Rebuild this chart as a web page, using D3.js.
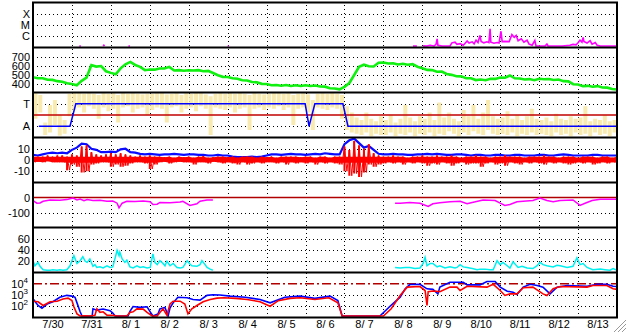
<!DOCTYPE html>
<html><head><meta charset="utf-8">
<script src="https://cdn.jsdelivr.net/npm/d3@7"></script>
<style>body{margin:0;background:#fff}svg{display:block}</style>
</head><body><svg id="c" width="628" height="334"></svg>
<script>
// ---------------- DATA ----------------
const dayLabels = ["7/30","7/31","8/ 1","8/ 2","8/ 3","8/ 4","8/ 5","8/ 6","8/ 7","8/ 8","8/ 9","8/10","8/11","8/12","8/13"];
const dayBreaks = [1,2,3,4,5,6,7,8,9,10,11,12,13,14];
const STEP = 0.125; // days between samples of the regular series

// X-ray flux (W/m2), [day, value]; null = no data
const xrayFlux = [[1.19,1e-7],[1.21,1.15e-7],[1.23,1e-7],[1.24,null],
 [1.80,1e-7],[1.82,1.6e-7],[1.84,1e-7],[1.85,null],
 [2.45,1e-7],[2.47,1.35e-7],[2.49,1e-7],[2.50,null],
 [5.00,1e-7],[5.01,1.1e-7],[5.03,1e-7],[5.04,null],
 [9.76,1.05e-7],[9.86,1e-7],[9.9,null],
 [10.02,1.4e-7],[10.12,1.2e-7],[10.20,1.6e-7],[10.30,1.3e-7],[10.35,1.8e-7],[10.38,5.9e-7],[10.40,1.6e-7],[10.51,1.2e-7],[10.61,1.3e-7],[10.71,1.1e-7],[10.76,2.6e-7],[10.84,3e-7],[10.89,1.9e-7],[10.97,2.2e-7],[11.05,1.6e-7],[11.10,2.4e-7],[11.15,3.8e-7],[11.20,2.5e-7],[11.28,3.2e-7],[11.33,2.1e-7],[11.38,4.5e-7],[11.43,2.8e-7],[11.48,1.2e-6],[11.51,3.5e-7],[11.58,2.6e-7],[11.66,3.2e-7],[11.71,2.7e-7],[11.74,4.6e-6],[11.76,3e-7],[11.84,2.4e-7],[11.92,2.8e-7],[11.97,2.5e-7],[12.02,2.8e-6],[12.05,3.3e-7],[12.12,3.5e-7],[12.23,3.3e-7],[12.30,1.4e-6],[12.36,8e-7],[12.41,1.2e-6],[12.46,4e-7],[12.54,6e-7],[12.61,3e-7],[12.69,4.5e-7],[12.74,2e-7],[12.82,1.6e-7],[12.89,4.2e-7],[12.92,1.4e-7],[13.02,1e-7],[13.15,1e-7],[13.20,2e-7],[13.23,1e-7],[13.43,1.1e-7],[13.59,1.1e-7],[13.79,1.6e-7],[13.87,1.9e-7],[13.95,1.7e-7],[14.00,2.6e-7],[14.05,4.5e-7],[14.10,3e-7],[14.13,8e-7],[14.15,3.5e-7],[14.23,2.5e-7],[14.31,4e-7],[14.36,2e-7],[14.44,2.8e-7],[14.49,1.6e-7],[14.57,1.1e-7],[14.77,1.05e-7],[15.00,1e-7]];

// Solar wind speed (km/s), one value every STEP days
const windSpeed = [470,458,459,441,440,426,420,402,395,380,430,466,604,588,594,536,518,503,568,614,640,606,585,548,556,554,567,566,585,544,
 548,542,547,544,548,536,540,516,492,474,473,458,453,436,433,416,413,396,395,381,383,375,383,373,381,372,381,373,377,367,
 365,347,344,335,363,405,494,586,609,591,589,631,634,622,624,611,620,608,615,586,569,551,549,531,532,506,496,481,479,459,
 459,438,444,437,452,451,467,464,489,458,456,444,449,437,452,448,449,439,444,426,424,392,389,371,374,364,371,356,354,338,333];

// IMF sector angle (deg): min/max per STEP bin, and sector line [day, deg]
const phiLo = [150,200,20,40,100,15,30,170, 220,240,200,250,230,150,240,210, 230,120,240,250,200,230,240,180, 220,240,230,120,240,250,200,230,
 240,210,250,230,20,240,230,220, 240,200,230,240,60,230,240,220, 240,230,250,220,240,100,230,240, 200,60,240,230,220,240,230,150,
 60,40,30,20,40,10,30,20, 20,40,10,30,20,40,10,30, 20,40,10,30,20,50,30,10, 40,20,50,30,20,60,30,20,
 30,20,40,10,30,20,40,20, 30,20,10,40,20,30,10,40, 20,30,10,40,20,30,10,40];
const phiHi = [355,340,120,260,300,180,140,350, 355,360,350,355,350,340,355,350, 355,340,360,350,355,350,345,350, 350,355,360,345,350,355,340,355,
 350,355,360,345,330,350,355,350, 355,350,360,350,340,355,350,345, 350,355,360,350,355,340,350,355, 345,300,350,355,350,360,350,340,
 250,200,160,140,200,150,130,170, 140,180,120,150,260,160,130,170, 150,200,140,280,160,200,150,130, 220,170,260,150,200,300,170,150,
 160,210,150,180,140,170,230,150, 140,160,130,190,150,140,170,150, 160,250,130,150,140,180,130,140];
const sector = [[0.15,90],[0.95,90],[1.10,270],[6.99,270],[7.09,90],[7.24,270],[7.96,270],[8.09,90],[15,90]];

// IMF Bt (blue) and Bz min/max (red), nT, one value every STEP days
const bt = [4.5,4,5,6,6.5,6,6.5,6, 9,11,14.5,14,10,9,7,7,7.5,7,9.5,10,7,6.5,5.5,
 5,5.5,5,4.5,5,5,5.5,5,4.5,5,5,4.5,4.5,4,4,4.5,4,4, 3,2.5,2.5,2.5,3,2.5,3,4,
 5,5,4.5,5,5.5,5,5,4.5,5,5.5,5,6,5.5,5,5, 14,17.5,19,15,11,12.5,9,5.5,
 5,5,5.5,5,5,4.5,4.5, 5,5,5.5,5,5.5,5,4.5, 4.5,5,5,4.5,4,4.5,4.5, 4,4,4.5,4.5,4,4,4.5, 4.5,4,4,4,4.5,4.5,4, 4,4.5,5,4.5,4,4,4, 4,4.5,4.5,4,4,4,4];
const bzLo = [-2,-1.5,-2,-1,-2,-2,-2,-9,-4,-6,-11,-10,-4,-3,-2,-2,-6,-4,-6,-5,-3,-2,-2,-3,-8,-4,
 -2,-1.5,-3,-2,-1.5,-2,-2,-4,-2,-2,-3,-1.5,-2,-3,-2, -3,-4,-2,-4,-3,-2,-3,-2,
 -2,-3,-2,-4,-2,-3,-2,-3,-2,-4,-2,-3,-2,-3,-4, -10,-14,-12,-15,-11,-4,-6,-4,
 -3,-2,-3,-2,-4,-2,-3, -2,-3,-5,-3,-4,-2,-3, -5,-3,-2,-4,-3,-3,-6, -3,-2,-4,-3,-5,-2,-3, -4,-2,-3,-2,-3,-4,-2, -3,-2,-3,-4,-3,-2,-3, -2,-4,-3,-2,-3,-2,-3];
const bzHi = [4,3,3,4,3,4,4,3,5,4,12,13,7,5,4,5,6,5,6,5,4,3,4,3,4,3,
 3,2.5,3,2,3,2.5,3,2,3,3.5,2,2.5,3,3,2.5, 3,2,3,3,3,2,3,2.5,
 3,2,3,3,3,3,2.5,3,3,2,3,3,2,3,3, 12,9,17,13,10,14,6,4,
 3,3,4,3,3,2,3, 3,4,3,3,4,3,3, 4,3,2,3,3,4,3, 3,2,3,3,4,3,3, 3,2,3,3,3,4,3, 3,2,3,3,3,2,3, 3,3,2,3,3,2,3];

// Dst index (nT), [day, value]
const dst = [[0,-20],[0.10,-38],[0.18,-36],[0.26,-25],[0.44,-16],[0.69,-18],[0.87,-14],[0.95,-8],[1.03,-4],[1.13,-16],[1.21,-10],[1.31,-22],[1.39,-14],[1.54,-20],[1.72,-18],[1.90,-25],[2.05,-24],[2.16,-38],[2.21,-69],[2.29,-38],[2.41,-25],[2.62,-27],[2.83,-24],[3.01,-28],[3.08,-47],[3.19,-45],[3.26,-33],[3.52,-35],[3.78,-30],[3.85,-25],[4.03,-53],[4.21,-42],[4.29,-25],[4.47,-16],[4.62,-16],[4.63,null],
 [9.30,-38],[9.43,-38],[9.68,-33],[9.94,-38],[10.15,-60],[10.27,-42],[10.45,-35],[10.71,-29],[10.97,-25],[11.15,-42],[11.28,-33],[11.56,-16],[11.87,-20],[12.00,-38],[12.12,-53],[12.25,-47],[12.43,-29],[12.59,-25],[12.84,-20],[13.02,-4],[13.20,-20],[13.36,-29],[13.54,-20],[13.87,-16],[14.05,-53],[14.18,-38],[14.36,-20],[14.57,-11],[15.00,-11]];

// Kp-like index (cyan), [day, value]
const kp = [[0,21],[0.05,12],[0.13,18],[0.18,11],[0.26,5],[0.36,4],[0.44,4],[0.51,5],[0.62,4],[0.69,5],[0.77,4],[0.87,5],[0.95,12],[1.05,30],[1.13,16],[1.21,21],[1.28,28],[1.34,20],[1.39,18],[1.46,24],[1.54,11],[1.59,14],[1.64,9],[1.72,10],[1.80,8],[1.90,12],[1.98,9],[2.05,10],[2.16,39],[2.21,30],[2.23,36],[2.29,24],[2.36,18],[2.41,22],[2.49,10],[2.57,8],[2.67,12],[2.75,9],[2.83,10],[2.93,8],[3.01,9],[3.08,33],[3.13,18],[3.19,14],[3.26,21],[3.34,16],[3.39,12],[3.44,20],[3.52,12],[3.60,16],[3.70,9],[3.78,8],[3.85,9],[3.96,21],[4.03,15],[4.08,12],[4.21,11],[4.29,14],[4.34,21],[4.42,14],[4.47,9],[4.55,6],[4.62,4],[4.63,null],
 [9.30,9],[9.43,8],[9.56,9],[9.68,9],[9.81,7],[9.94,8],[10.02,16],[10.07,27],[10.12,12],[10.20,16],[10.27,16],[10.38,10],[10.45,12],[10.58,8],[10.71,10],[10.84,8],[10.89,9],[10.97,14],[11.05,10],[11.15,9],[11.28,7],[11.41,5],[11.48,6],[11.61,6],[11.74,5],[11.82,5],[11.92,21],[12.00,14],[12.07,18],[12.18,12],[12.25,8],[12.33,19],[12.46,9],[12.56,11],[12.69,8],[12.84,7],[12.95,12],[13.02,18],[13.10,14],[13.20,12],[13.36,10],[13.46,13],[13.54,12],[13.72,9],[13.87,11],[13.97,26],[14.05,14],[14.13,16],[14.23,9],[14.38,5],[14.57,6],[14.69,5],[14.82,4],[14.90,7],[15.00,4]];

// Electron flux (log panel), blue and red, [day, value]
const fluxBlue = [[0,457],[0.13,117],[0.23,68],[0.36,158],[0.51,251],[0.69,631],[0.87,933],[1.00,794],[1.08,631],[1.13,200],[1.21,32],[1.26,10],[1.52,10],[1.54,59],[1.64,45],[1.80,56],[1.98,40],[2.05,25],[2.11,10],[2.44,10],[2.49,35],[2.57,95],[2.75,79],[2.93,89],[3.01,32],[3.08,10],[3.21,20],[3.26,59],[3.39,79],[3.47,10],[3.52,71],[3.60,200],[3.72,631],[3.96,562],[4.11,398],[4.29,355],[4.47,933],[4.62,1047],[4.80,1000],
 [5.06,794],[5.45,631],[5.83,398],[6.09,200],[6.47,631],[6.86,794],[7.24,501],[7.63,794],[7.83,316],[7.94,10],[8.91,10],[9.17,100],[9.43,646],[9.56,3548],[9.68,8511],[9.94,8913],[10.12,3548],[10.27,3162],[10.40,1259],[10.45,5012],[10.71,13800],[11.05,13800],[11.15,7943],[11.48,7943],[11.66,15850],[11.87,15850],[12.00,5012],[12.18,2188],[12.33,1778],[12.43,1096],[12.59,5012],[12.77,8913],[12.95,7079],[13.10,5012],[13.28,1259],[13.46,5012],[13.72,7079],[14.05,6310],[14.23,6026],[14.49,8913],[14.74,8913],[14.90,6026],[15.00,5623]];
const fluxRed = [[0,282],[0.13,251],[0.26,117],[0.44,251],[0.62,282],[0.77,447],[0.90,525],[1.00,316],[1.05,89],[1.13,21],[1.21,13],[1.34,14],[1.46,13],[1.59,16],[1.64,59],[1.72,29],[1.80,32],[1.90,16],[2.05,16],[2.16,11],[2.41,11],[2.49,28],[2.57,32],[2.67,59],[2.83,56],[2.93,28],[3.06,13],[3.19,13],[3.26,28],[3.34,59],[3.44,16],[3.52,158],[3.60,282],[3.78,282],[3.90,158],[3.98,21],[4.08,59],[4.21,117],[4.37,251],[4.55,398],[4.73,525],
 [4.90,562],[5.20,501],[5.50,398],[5.83,251],[6.09,100],[6.30,316],[6.60,501],[6.86,562],[7.24,398],[7.60,562],[7.83,200],[7.94,12],[9.00,12],[9.20,60],[9.43,912],[9.61,5012],[9.94,5623],[10.07,2512],[10.12,117],[10.15,1995],[10.27,2239],[10.45,1995],[10.71,5012],[10.89,5012],[10.97,2512],[11.15,6026],[11.66,5012],[11.82,8913],[12.00,2512],[12.12,912],[12.25,1259],[12.43,1259],[12.59,4467],[12.84,5012],[13.10,1259],[13.20,912],[13.36,3548],[13.54,5623],[14.23,5012],[14.38,7079],[14.74,7079],[14.90,3548],[15.00,3162]];

// ---------------- DRAWING ----------------
const svg = d3.select("#c");
const FONT = "'Liberation Sans', Arial, sans-serif";
const FS = 11;
const L = 33, R = 617, T0 = 2.5, PH = 45;
const ptop = i => T0 + i * PH;
const x = d3.scaleLinear().domain([0, 15]).range([L, R]);

const yX = d3.scaleLog().domain([1e-7, 1e-3]).range([ptop(1), ptop(0)]).clamp(true);
const ySp = d3.scaleLinear().domain([300, 800]).range([ptop(2), ptop(1)]);
const yPhi = d3.scaleLinear().domain([0, 360]).range([ptop(3), ptop(2)]);
const yB = d3.scaleLinear().domain([-20, 20]).range([ptop(4), ptop(3)]);
const yDst = d3.scaleLinear().domain([-200, 100]).range([ptop(5), ptop(4)]);
const yKp = d3.scaleLinear().domain([0, 80]).range([ptop(6), ptop(5)]);
const yE = d3.scaleLog().domain([10, 1e5]).range([ptop(7), ptop(6)]).clamp(true);

const defs = svg.append("defs");
for (let i = 0; i < 7; i++) {
  defs.append("clipPath").attr("id", "cp" + i).append("rect")
    .attr("x", L).attr("y", ptop(i)).attr("width", R - L).attr("height", PH);
}

const panels = [
  {s: yX, lab: [1e-4, 1e-5, 1e-6], fmt: d => ({1e-4: "X", 1e-5: "M", 1e-6: "C"})[d], grid: [1e-4, 1e-5, 1e-6]},
  {s: ySp, lab: [700, 600, 500, 400], fmt: d => d, grid: [700, 600, 500, 400]},
  {s: yPhi, lab: [270, 90], fmt: d => d === 270 ? "T" : "A", grid: [270, 90]},
  {s: yB, lab: [10, 0, -10], fmt: d => String(d), grid: [10, -10]},
  {s: yDst, lab: [0, -100], fmt: d => String(d), grid: [-100]},
  {s: yKp, lab: [60, 40, 20], fmt: d => d, grid: [60, 40, 20]},
  {s: yE, lab: [1e4, 1e3, 1e2], fmt: d => "", grid: [1e3, 1e2]}
];

// vertical day gridlines
const vg = svg.append("g").attr("transform", `translate(0,${ptop(7)})`)
  .call(d3.axisBottom(x).tickValues(dayBreaks).tickSize(-(ptop(7) - ptop(0))).tickFormat(""));
vg.select(".domain").remove();
vg.selectAll("line").attr("stroke", "#000").attr("stroke-dasharray", "1,3").attr("shape-rendering", "crispEdges");

// horizontal gridlines + labels
panels.forEach((p, i) => {
  const g = svg.append("g").attr("transform", `translate(${L},0)`)
    .call(d3.axisLeft(p.s).tickValues(p.grid).tickSize(-(R - L)).tickFormat(""));
  g.select(".domain").remove();
  g.selectAll("line").attr("stroke", "#000").attr("stroke-dasharray", "1,3").attr("shape-rendering", "crispEdges");
  const a = svg.append("g").attr("transform", `translate(${L},0)`)
    .call(d3.axisLeft(p.s).tickValues(p.lab).tickFormat(p.fmt).tickSize(0).tickPadding(3));
  a.select(".domain").remove();
  a.selectAll("text").attr("font-size", FS).attr("font-family", FONT).attr("fill", "#000");
  if (i === 6) {
    a.selectAll("text").each(function (d) {
      const t = d3.select(this);
      t.attr("x", -5);
      t.append("tspan").text("10");
      t.append("tspan").attr("dy", "-0.6em").attr("font-size", 8).text(Math.round(Math.log10(d)));
    });
  }
});

// reference lines
const refLine = (s, v, color, dash) => svg.append("line").attr("x1", L).attr("x2", R)
  .attr("y1", s(v)).attr("y2", s(v)).attr("stroke", color).attr("stroke-width", 1.5)
  .attr("stroke-dasharray", dash || null);
refLine(yB, 0, "#b00000");
refLine(yDst, 0, "#b00000");
refLine(yE, 1e4, "#b00000", "9,3,2,3");

const pairLine = (s) => d3.line().defined(d => d[1] != null).x(d => x(d[0])).y(d => s(d[1]));
const regLine = (s) => d3.line().x((d, i) => x(i * STEP)).y(d => s(d));

// Panel 0: X-ray
svg.append("path").datum(xrayFlux).attr("clip-path", "url(#cp0)")
  .attr("d", d3.line().defined(d => d[1] != null).x(d => x(d[0])).y(d => Math.min(yX(d[1]), ptop(1) - 1.5)))
  .attr("fill", "none").attr("stroke", "#ff00ff").attr("stroke-width", 1.6);

// Panel 1: speed
svg.append("path").datum(windSpeed).attr("clip-path", "url(#cp1)")
  .attr("d", regLine(ySp)).attr("fill", "none").attr("stroke", "#10f010").attr("stroke-width", 2.6);

// Panel 2: sector
svg.append("g").attr("clip-path", "url(#cp2)").selectAll("rect").data(phiLo).join("rect")
  .attr("x", (d, i) => x(i * STEP + STEP / 2) - 2).attr("width", 4)
  .attr("y", (d, i) => yPhi(phiHi[i])).attr("height", (d, i) => yPhi(d) - yPhi(phiHi[i]))
  .attr("fill", "#f9ebb0");
refLine(yPhi, 180, "#c00000");
svg.append("path").datum(sector).attr("clip-path", "url(#cp2)")
  .attr("d", pairLine(yPhi)).attr("fill", "none").attr("stroke", "#0000ff").attr("stroke-width", 1.5);

// Panel 3: IMF (Bt line; Bz drawn as a core band plus full min-max strokes per bin)
svg.append("path").datum(bt).attr("clip-path", "url(#cp3)")
  .attr("d", regLine(yB)).attr("fill", "none").attr("stroke", "#0a0aff").attr("stroke-width", 2.2);
const gBz = svg.append("g").attr("clip-path", "url(#cp3)");
gBz.append("path").datum(bzLo)
  .attr("d", d3.area().x((d, i) => x(i * STEP)).y0(d => yB(Math.max(d, -2.5))).y1((d, i) => yB(Math.min(bzHi[i], 3))))
  .attr("fill", "#ff0000");
gBz.selectAll("line").data(bzLo).join("line")
  .attr("x1", (d, i) => x(i * STEP)).attr("x2", (d, i) => x(i * STEP))
  .attr("y1", d => yB(d)).attr("y2", (d, i) => yB(bzHi[i]))
  .attr("stroke", "#ff0000").attr("stroke-width", 2);
gBz.selectAll("path.zz").data([bzLo.flatMap((d, i) => [[i * STEP, bzHi[i]], [i * STEP + STEP / 2, d]])]).join("path")
  .attr("class", "zz").attr("d", pairLine(yB)).attr("fill", "none").attr("stroke", "#ff0000").attr("stroke-width", 1);

// Panel 4: Dst
svg.append("path").datum(dst).attr("clip-path", "url(#cp4)")
  .attr("d", pairLine(yDst)).attr("fill", "none").attr("stroke", "#ff00ff").attr("stroke-width", 1.5);

// Panel 5: cyan
svg.append("path").datum(kp).attr("clip-path", "url(#cp5)")
  .attr("d", pairLine(yKp)).attr("fill", "none").attr("stroke", "#00f0f0").attr("stroke-width", 1.5);

// Panel 6: flux
svg.append("path").datum(fluxBlue).attr("clip-path", "url(#cp6)")
  .attr("d", d3.line().x(d => x(d[0])).y(d => Math.min(yE(d[1]), ptop(7) - 1.5)))
  .attr("fill", "none").attr("stroke", "#0000ff").attr("stroke-width", 1.6);
svg.append("path").datum(fluxRed).attr("clip-path", "url(#cp6)")
  .attr("d", d3.line().x(d => x(d[0])).y(d => Math.min(yE(d[1]), ptop(7) - 1.5)))
  .attr("fill", "none").attr("stroke", "#ff0000").attr("stroke-width", 1.6);

// frame
svg.append("rect").attr("x", L).attr("y", ptop(0)).attr("width", R - L).attr("height", ptop(7) - ptop(0))
  .attr("fill", "none").attr("stroke", "#000").attr("stroke-width", 2);
for (let i = 1; i < 7; i++) {
  svg.append("line").attr("x1", L).attr("x2", R).attr("y1", ptop(i)).attr("y2", ptop(i))
    .attr("stroke", "#000").attr("stroke-width", 2);
}

// date labels
const xa = svg.append("g").attr("transform", `translate(0,${ptop(7)})`)
  .call(d3.axisBottom(x).tickValues(dayLabels.map((d, i) => i + 0.5)).tickFormat((d, i) => dayLabels[i]).tickSize(0).tickPadding(3));
xa.select(".domain").remove();
xa.selectAll("text").attr("font-size", FS).attr("font-family", FONT).attr("fill", "#000");

// resize grip
[[626, 320, 614, 332], [626, 324, 618, 332], [626, 328, 622, 332]].forEach(c => {
  svg.append("line").attr("x1", c[0]).attr("y1", c[1]).attr("x2", c[2]).attr("y2", c[3]).attr("stroke", "#999").attr("stroke-width", 1);
  svg.append("line").attr("x1", c[0] + 1).attr("y1", c[1] + 1).attr("x2", c[2] + 1).attr("y2", c[3] + 1).attr("stroke", "#fff").attr("stroke-width", 1);
});
</script>
</body></html>
